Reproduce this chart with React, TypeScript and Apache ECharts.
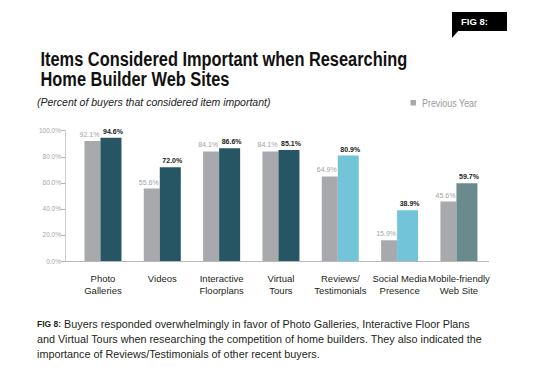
import React, { useEffect, useRef } from "react";
import * as echarts from "echarts";

const categories = [
  "Photo\nGalleries",
  "Videos",
  "Interactive\nFloorplans",
  "Virtual\nTours",
  "Reviews/\nTestimonials",
  "Social Media\nPresence",
  "Mobile-friendly\nWeb Site",
];
const previousYear = [92.1, 55.6, 84.1, 84.1, 64.9, 15.9, 45.6];
const currentYear = [94.6, 72.0, 86.6, 85.1, 80.9, 38.9, 59.7];
const currentColors = ["#265663", "#265663", "#265663", "#265663", "#72c4d8", "#72c4d8", "#6a8b8d"];
const yTicks = [0, 20, 40, 60, 80, 100];

const SANS = "'Liberation Sans', Arial, sans-serif";

export default function App() {
  const ref = useRef<HTMLDivElement>(null);
  useEffect(() => {
    if (!ref.current) return;
    const chart = echarts.init(ref.current, undefined, { renderer: "svg" });
    const gridLeft = 73.3;
    const gridWidth = 415.3;
    const gridTop = 130.7;
    const gridHeight = 130.3;
    chart.setOption({
      animation: false,
      backgroundColor: "#ffffff",
      grid: { left: gridLeft, top: gridTop, width: gridWidth, height: gridHeight, containLabel: false },
      xAxis: {
        type: "category",
        data: categories,
        axisLine: { show: false },
        axisTick: { show: false },
        axisLabel: {
          interval: 0,
          margin: 11,
          color: "#231f20",
          fontFamily: SANS,
          fontSize: 9.5,
          lineHeight: 12,
        },
      },
      yAxis: {
        type: "value",
        min: yTicks[0],
        max: yTicks[yTicks.length - 1],
        interval: 20,
        offset: 8.3,
        splitLine: { show: false },
        axisLine: { show: true, lineStyle: { color: "#cccccc", width: 1 } },
        axisTick: { show: true, length: 4, lineStyle: { color: "#b5b5b5" } },
        axisLabel: {
          margin: 4,
          color: "#a5a5a5",
          fontFamily: SANS,
          fontSize: 6.5,
          formatter: (v: number) => v.toFixed(1) + "%",
        },
      },
      series: [
        {
          name: "Previous Year",
          type: "bar",
          data: previousYear,
          barWidth: 16,
          barGap: "0%",
          itemStyle: { color: "#a7a9ac" },
          label: {
            show: true,
            position: "top",
            distance: 3,
            offset: [-3, 0],
            color: "#a3a3a3",
            fontFamily: SANS,
            fontSize: 7,
            formatter: (p: any) => p.value.toFixed(1) + "%",
          },
        },
        {
          name: "Current Year",
          type: "bar",
          data: currentYear.map((v, i) => ({ value: v, itemStyle: { color: currentColors[i] } })),
          barWidth: 21,
          barGap: "0%",
          label: {
            show: true,
            position: "top",
            distance: 3,
            offset: [2, 0],
            color: "#1a1a1a",
            fontWeight: "bold",
            fontFamily: SANS,
            fontSize: 7,
            formatter: (p: any) => p.value.toFixed(1) + "%",
          },
        },
      ],
      graphic: [
        { type: "line", shape: { x1: 63, y1: 261.5, x2: 489, y2: 261.5 }, style: { stroke: "#b8b8b8", lineWidth: 1 } },
        { type: "rect", shape: { x: 452, y: 12, width: 55, height: 19 }, style: { fill: "#000" } },
        { type: "polygon", shape: { points: [[452, 30], [459, 30], [452, 38]] }, style: { fill: "#000" } },
        {
          type: "text", x: 461, y: 21.5,
          style: { text: "FIG 8:", fill: "#fff", font: "bold 9.5px " + SANS, textVerticalAlign: "middle" },
        },
        {
          type: "text", x: 40.5, y: 59, scaleX: 0.78,
          style: { text: "Items Considered Important when Researching", fill: "#111", font: "bold 21px " + SANS, textVerticalAlign: "middle" },
        },
        {
          type: "text", x: 40.5, y: 78.5, scaleX: 0.78,
          style: { text: "Home Builder Web Sites", fill: "#111", font: "bold 21px " + SANS, textVerticalAlign: "middle" },
        },
        {
          type: "text", x: 37, y: 101.5,
          style: { text: "(Percent of buyers that considered item important)", fill: "#222", font: "italic 10.5px " + SANS, textVerticalAlign: "middle" },
        },
        { type: "rect", shape: { x: 410.5, y: 100, width: 5.5, height: 5.5 }, style: { fill: "#a7a9ac" } },
        {
          type: "text", x: 422, y: 103, scaleX: 0.85,
          style: { text: "Previous Year", fill: "#9a9a9a", font: "10.5px " + SANS, textVerticalAlign: "middle" },
        },
        {
          type: "text", x: 37, y: 324,
          style: {
            text: "{b|FIG 8:} Buyers responded overwhelmingly in favor of Photo Galleries, Interactive Floor Plans",
            fill: "#231f20", font: "10.8px " + SANS, textVerticalAlign: "middle",
            rich: { b: { font: "bold 8.5px " + SANS, fill: "#231f20" } },
          },
        },
        {
          type: "text", x: 37, y: 339,
          style: { text: "and Virtual Tours when researching the competition of home builders. They also indicated the", fill: "#231f20", font: "10.8px " + SANS, textVerticalAlign: "middle" },
        },
        {
          type: "text", x: 37, y: 354,
          style: { text: "importance of Reviews/Testimonials of other recent buyers.", fill: "#231f20", font: "10.8px " + SANS, textVerticalAlign: "middle" },
        },
      ],
    });
    return () => chart.dispose();
  }, []);
  return <div ref={ref} style={{ position: "fixed", left: 0, top: 0, width: 559, height: 367 }} />;
}
